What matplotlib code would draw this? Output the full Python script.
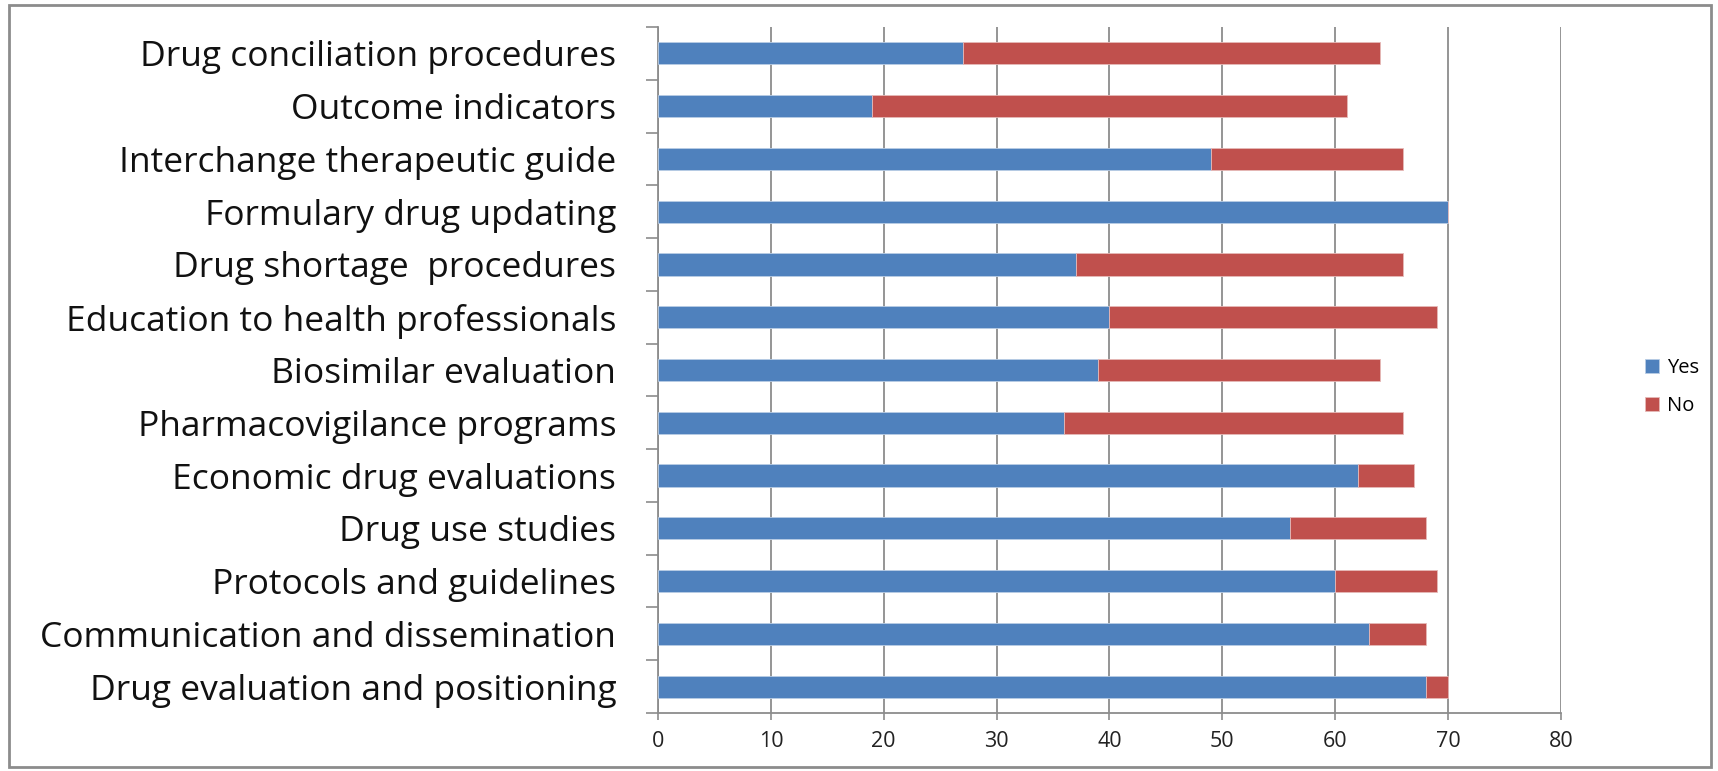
import matplotlib.pyplot as plt
import numpy as np
from matplotlib.patches import Rectangle

plt.rcParams['font.family'] = ['Open Sans', 'DejaVu Sans']

# Kategorie od dołu do góry
kategorie = [
    "Drug evaluation and positioning",
    "Communication and dissemination",
    "Protocols and guidelines",
    "Drug use studies",
    "Economic drug evaluations",
    "Pharmacovigilance programs",
    "Biosimilar evaluation",
    "Education to health professionals",
    "Drug shortage  procedures",
    "Formulary drug updating",
    "Interchange therapeutic guide",
    "Outcome indicators",
    "Drug conciliation procedures",
]
tak = [68, 63, 60, 56, 62, 36, 39, 40, 37, 70, 49, 19, 27]
nie = [2, 5, 9, 12, 5, 30, 25, 29, 29, 0, 17, 42, 37]

niebieski = '#4F81BD'
czerwony = '#C0504D'
szary = '#8C8C8C'

fig = plt.figure(figsize=(17.18, 7.71), dpi=100)
ax = fig.add_axes([0.383, 0.0752, 0.5256, 0.8898])

y = np.arange(len(kategorie))
ax.barh(y, tak, height=0.42, color=niebieski, edgecolor='#B9CDE5', linewidth=0.6, label='Yes', zorder=3)
ax.barh(y, nie, left=tak, height=0.42, color=czerwony, edgecolor='#E6B9B8', linewidth=0.6, label='No', zorder=3)

ax.set_xlim(0, 80)
ax.set_ylim(-0.5, len(kategorie) - 0.5)
ax.set_xticks(range(0, 81, 10))
ax.tick_params(axis='x', labelsize=15.5, color=szary, length=5, width=1.2, pad=8, labelcolor='#222222')

# podpisy kategorii na środku, kreski na granicach
ax.set_yticks(np.arange(-0.5, len(kategorie)), minor=False)
ax.set_yticklabels([])
ax.set_yticks(y, minor=True)
ax.set_yticklabels(kategorie, minor=True, fontsize=25.5, color='#111111')
ax.tick_params(axis='y', which='major', color=szary, length=9, width=1.2)
ax.tick_params(axis='y', which='minor', length=0, pad=30)

ax.grid(axis='x', color=szary, linewidth=1.3, zorder=0)
for s in ['top', 'right']:
    ax.spines[s].set_visible(False)
for s in ['left', 'bottom']:
    ax.spines[s].set_color(szary)
    ax.spines[s].set_linewidth(1.3)

ax.legend(loc='center left', bbox_to_anchor=(0.947, 0.498), bbox_transform=fig.transFigure,
          frameon=False, fontsize=14.5, handlelength=0.7, handleheight=0.7,
          handletextpad=0.4, labelspacing=0.9)

# ramka wokół całego wykresu
fig.patches.append(Rectangle((0.005, 0.005), 0.991, 0.988, transform=fig.transFigure,
                             fill=False, edgecolor='#8C8C8C', linewidth=2))

fig.savefig('out.png', dpi=100)
